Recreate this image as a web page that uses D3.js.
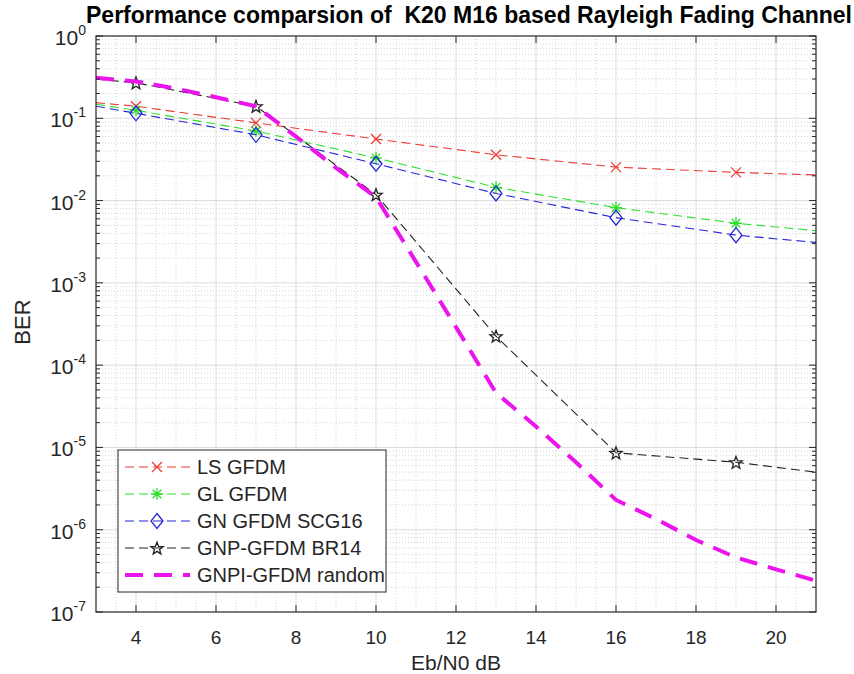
<!DOCTYPE html>
<html>
<head>
<meta charset="utf-8">
<script src="https://cdn.jsdelivr.net/npm/d3@7"></script>
<style>
  html, body { margin: 0; padding: 0; background: #fff; }
  svg { display: block; }
  text { font-family: "Liberation Sans", Arial, sans-serif; fill: #262626; }
</style>
</head>
<body>
<svg id="chart" width="854" height="674"></svg>
<script>
// ---------------- data ----------------
const ebno = [3, 4, 7, 10, 13, 16, 19, 21];
const markerEbno = [4, 7, 10, 13, 16, 19];
const lsGfdm  = [0.155, 0.14, 0.088, 0.056, 0.036, 0.0255, 0.022, 0.0205];
const glGfdm  = [0.148, 0.125, 0.070, 0.033, 0.0145, 0.0082, 0.0053, 0.0043];
const gnGfdm  = [0.140, 0.115, 0.063, 0.028, 0.0122, 0.0062, 0.0038, 0.0031];
const gnpGfdm = [0.30, 0.27, 0.14, 0.0118, 2.25e-4, 8.6e-6, 6.6e-6, 5.0e-6];
const ebnoFine = [3,4,5,6,7,8,9,10,11,12,13,14,15,16,17,18,19,20,21];
const gnpiGfdm = [0.31, 0.28, 0.23, 0.18, 0.14, 0.06, 0.025, 0.011, 0.0018, 2.9e-4, 4.6e-5,
                  1.8e-5, 6.6e-6, 2.3e-6, 1.35e-6, 7.5e-7, 4.6e-7, 3.3e-7, 2.4e-7];
const seriesNames = ["LS GFDM", "GL GFDM", "GN GFDM SCG16", "GNP-GFDM BR14", "GNPI-GFDM random"];
const xTicks = [4, 6, 8, 10, 12, 14, 16, 18, 20];
const yDecades = [0, -1, -2, -3, -4, -5, -6, -7];
const titleText = "Performance comparsion of  K20 M16 based Rayleigh Fading Channel";
const xLabelText = "Eb/N0 dB";
const yLabelText = "BER";

// ---------------- layout ----------------
const svg = d3.select("#chart");
const L = 96, R = 816, T = 36, B = 612;
const x = d3.scaleLinear().domain([3, 21]).range([L, R]);
const y = d3.scaleLog().domain([1e-7, 1]).range([B, T]);
const axisColor = "#262626";

svg.append("defs").append("clipPath").attr("id", "plotclip")
  .append("rect").attr("x", L).attr("y", T).attr("width", R - L).attr("height", B - T);

svg.append("rect").attr("x", L).attr("y", T).attr("width", R - L).attr("height", B - T).attr("fill", "#fff");

// ---------------- grid ----------------
const grid = svg.append("g");
const xMinor = d3.range(3, 21.001, 0.5).filter(v => !xTicks.includes(v) && v > 3 && v < 21);
grid.selectAll(".xmin").data(xMinor).join("line")
  .attr("x1", d => x(d)).attr("x2", d => x(d)).attr("y1", T).attr("y2", B)
  .attr("stroke", "#c9c9c9").attr("stroke-width", 0.8).attr("stroke-dasharray", "1,2");
const yMinor = [];
yDecades.slice(1).forEach(k => { for (let m = 2; m <= 9; m++) yMinor.push(m * Math.pow(10, k)); });
grid.selectAll(".ymin").data(yMinor).join("line")
  .attr("x1", L).attr("x2", R).attr("y1", d => y(d)).attr("y2", d => y(d))
  .attr("stroke", "#c9c9c9").attr("stroke-width", 0.8).attr("stroke-dasharray", "1,2");
grid.selectAll(".xmaj").data(xTicks).join("line")
  .attr("x1", d => x(d)).attr("x2", d => x(d)).attr("y1", T).attr("y2", B)
  .attr("stroke", "#dcdcdc").attr("stroke-width", 1);
grid.selectAll(".ymaj").data(yDecades.slice(1, -1)).join("line")
  .attr("x1", L).attr("x2", R).attr("y1", d => y(Math.pow(10, d))).attr("y2", d => y(Math.pow(10, d)))
  .attr("stroke", "#dcdcdc").attr("stroke-width", 1);

// ---------------- markers ----------------
function markerPath(type, s) {
  if (type === "x") {
    return `M${-s},${-s}L${s},${s}M${-s},${s}L${s},${-s}`;
  } else if (type === "star") {
    const d = s * 0.72;
    return `M${-s},0L${s},0M0,${-s}L0,${s}M${-d},${-d}L${d},${d}M${-d},${d}L${d},${-d}`;
  } else if (type === "diamond") {
    const w = s, h = s * 1.25;
    return `M0,${-h}L${w},0L0,${h}L${-w},0Z`;
  } else if (type === "pent") {
    const pts = [];
    for (let i = 0; i < 10; i++) {
      const r = i % 2 === 0 ? s : s * 0.42;
      const a = -Math.PI / 2 + i * Math.PI / 5;
      pts.push([r * Math.cos(a), r * Math.sin(a) + s * 0.1]);
    }
    return "M" + pts.map(p => p[0].toFixed(2) + "," + p[1].toFixed(2)).join("L") + "Z";
  }
  return "";
}

const series = [
  { name: seriesNames[0], xs: ebno, ys: lsGfdm,  color: "#ee3b36", width: 1.1, dash: "9,5", marker: "x", msize: 5 },
  { name: seriesNames[1], xs: ebno, ys: glGfdm,  color: "#2ee02e", width: 1.1, dash: "9,5", marker: "star", msize: 6 },
  { name: seriesNames[2], xs: ebno, ys: gnGfdm,  color: "#2727d8", width: 1.1, dash: "9,5", marker: "diamond", msize: 6 },
  { name: seriesNames[3], xs: ebno, ys: gnpGfdm, color: "#222222", width: 1.1, dash: "9,5", marker: "pent", msize: 6.5 },
  { name: seriesNames[4], xs: ebnoFine, ys: gnpiGfdm, color: "#ec14ec", width: 4, dash: "18,11", marker: null, msize: 0 }
];

const line = d3.line().x(d => x(d[0])).y(d => y(d[1]));
const plot = svg.append("g").attr("clip-path", "url(#plotclip)");
series.forEach(s => {
  const pts = s.xs.map((v, i) => [v, s.ys[i]]);
  plot.append("path").attr("d", line(pts)).attr("fill", "none")
    .attr("stroke", s.color).attr("stroke-width", s.width).attr("stroke-dasharray", s.dash);
  if (s.marker) {
    const mpts = pts.filter(p => markerEbno.includes(p[0]));
    plot.selectAll(null).data(mpts).join("path")
      .attr("transform", d => `translate(${x(d[0])},${y(d[1])})`)
      .attr("d", markerPath(s.marker, s.msize))
      .attr("fill", "none").attr("stroke", s.color).attr("stroke-width", 1.3);
  }
});

// ---------------- axes box & ticks ----------------
const ax = svg.append("g");
ax.append("rect").attr("x", L).attr("y", T).attr("width", R - L).attr("height", B - T)
  .attr("fill", "none").attr("stroke", axisColor).attr("stroke-width", 1.2);
xTicks.forEach(v => {
  ax.append("line").attr("x1", x(v)).attr("x2", x(v)).attr("y1", B).attr("y2", B - 7).attr("stroke", axisColor);
  ax.append("line").attr("x1", x(v)).attr("x2", x(v)).attr("y1", T).attr("y2", T + 7).attr("stroke", axisColor);
});
yDecades.forEach(k => {
  const yy = y(Math.pow(10, k));
  ax.append("line").attr("x1", L).attr("x2", L + 7).attr("y1", yy).attr("y2", yy).attr("stroke", axisColor);
  ax.append("line").attr("x1", R).attr("x2", R - 7).attr("y1", yy).attr("y2", yy).attr("stroke", axisColor);
});
yMinor.forEach(v => {
  const yy = y(v);
  ax.append("line").attr("x1", L).attr("x2", L + 4).attr("y1", yy).attr("y2", yy).attr("stroke", axisColor);
  ax.append("line").attr("x1", R).attr("x2", R - 4).attr("y1", yy).attr("y2", yy).attr("stroke", axisColor);
});

// tick labels
svg.selectAll(".xtl").data(xTicks).join("text")
  .attr("x", d => x(d)).attr("y", 644).attr("text-anchor", "middle")
  .attr("font-size", 19).text(d => d);
yDecades.forEach(k => {
  const yy = y(Math.pow(10, k));
  const t = svg.append("text").attr("x", 86).attr("y", yy + 9).attr("text-anchor", "end").attr("font-size", 21);
  t.append("tspan").text("10");
  t.append("tspan").attr("dy", -10).attr("font-size", 14).text(k === 0 ? "0" : "-" + Math.abs(k));
});

// axis labels
svg.append("text").attr("x", (L + R) / 2).attr("y", 670).attr("text-anchor", "middle")
  .attr("font-size", 21).text(xLabelText);
svg.append("text").attr("transform", `translate(30,322) rotate(-90)`).attr("text-anchor", "middle")
  .attr("font-size", 22).text(yLabelText);
// title
svg.append("text").attr("x", 86).attr("y", 23).attr("font-size", 23).attr("font-weight", "bold")
  .attr("xml:space", "preserve").style("white-space", "pre")
  .attr("textLength", 766).attr("lengthAdjust", "spacingAndGlyphs")
  .style("fill", "#000").text(titleText);

// ---------------- legend ----------------
const lg = svg.append("g");
const lgX = 118, lgY = 450, lgW = 268, lgH = 142;
lg.append("rect").attr("x", lgX).attr("y", lgY).attr("width", lgW).attr("height", lgH)
  .attr("fill", "#fff").attr("stroke", axisColor).attr("stroke-width", 1);
series.forEach((s, i) => {
  const cy = 467 + i * 27;
  lg.append("line").attr("x1", 125).attr("x2", 190).attr("y1", cy).attr("y2", cy)
    .attr("stroke", s.color).attr("stroke-width", s.width).attr("stroke-dasharray", s.dash);
  if (s.marker) {
    lg.append("path").attr("transform", `translate(157,${cy})`).attr("d", markerPath(s.marker, s.msize))
      .attr("fill", "none").attr("stroke", s.color).attr("stroke-width", 1.3);
  }
  lg.append("text").attr("x", 197).attr("y", cy + 7).attr("font-size", 20).text(s.name);
});
</script>
</body>
</html>
